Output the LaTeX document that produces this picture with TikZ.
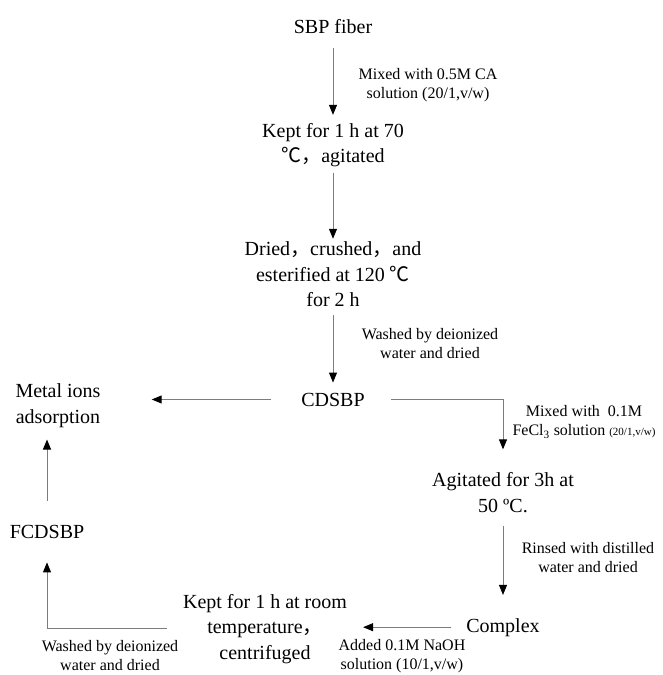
\documentclass[tikz,border=0pt]{standalone}
\usepackage{fontspec}
\setmainfont{Liberation Serif}
\newfontfamily\cjk{Noto Sans CJK SC}
\usetikzlibrary{arrows.meta}
\definecolor{linegray}{RGB}{125,125,125}
\begin{document}
\begin{tikzpicture}[x=1pt,y=-1pt,
  main/.style={inner sep=0pt, font=\fontsize{20}{25.5}\selectfont, align=center},
  lab/.style={inner sep=0pt, font=\fontsize{16}{19}\selectfont, align=center},
  flow/.style={draw=linegray, line width=0.9pt, -{Triangle[width=8pt,length=10pt,color=black]}}]
\useasboundingbox (0,0) rectangle (662,675);
% main nodes
\node[main, anchor=base] (sbp) at (333,33) {SBP fiber};
\node[main] (kept) at (333,145) {Kept for 1 h at 70\\{\cjk ℃，}agitated};
\node[main] (dried) at (333,274.5) {Dried{\cjk ，}crushed{\cjk ，}and\\esterified at 120 {\cjk ℃}\\for 2 h};
\node[main, anchor=base] (cdsbp) at (333,406) {CDSBP};
\node[main] (metal) at (58,405.5) {Metal ions\\adsorption};
\node[main, anchor=base] (fcdsbp) at (47,538) {FCDSBP};
\node[main] (agit) at (503,492.5) {Agitated for 3h at\\50 ºC.};
\node[main, anchor=base] (complex) at (503,632) {Complex};
\node[main] (room) at (265,628.7) {Kept for 1 h at room\\temperature{\cjk ，}\\centrifuged};
% labels
\node[lab] (l1) at (428,85) {Mixed with 0.5M CA\\solution (20/1,v/w)};
\node[lab] (l2) at (430,344) {Washed by deionized\\water and dried};
\node[lab] (l3) at (584,422) {Mixed with \ 0.1M\\FeCl\textsubscript{3} solution {\fontsize{11}{12}\selectfont(20/1,v/w)}};
\node[lab] (l4) at (588,558) {Rinsed with distilled\\water and dried};
\node[lab] (l5) at (402,656.5) {Added 0.1M NaOH\\solution (10/1,v/w)};
\node[lab] (l6) at (110,656) {Washed by deionized\\water and dried};
% connectors
\draw[flow, shorten <=15pt, shorten >=8pt] (sbp) -- (kept);
\draw[flow, shorten <=5.5pt, shorten >=3pt] (kept) -- (dried);
\draw[flow, shorten <=8pt, shorten >=10pt] (dried) -- (cdsbp);
\draw[flow, shorten <=30pt, shorten >=51pt] (cdsbp.west) -- (cdsbp.west -| metal.east);
\draw[flow, shorten <=26pt, shorten >=23pt] (cdsbp.east) -| (agit.north);
\draw[flow, shorten <=13pt, shorten >=23pt] (agit) -- (complex);
\draw[flow, shorten <=15pt, shorten >=16pt] (complex.west) -- (complex.west -| room.east);
\draw[flow, shorten <=16pt, shorten >=24pt] (room.west) -| (fcdsbp.south);
\draw[flow, shorten <=24pt, shorten >=12pt] (fcdsbp.north) -- (fcdsbp.north |- metal.south);
\end{tikzpicture}
\end{document}
